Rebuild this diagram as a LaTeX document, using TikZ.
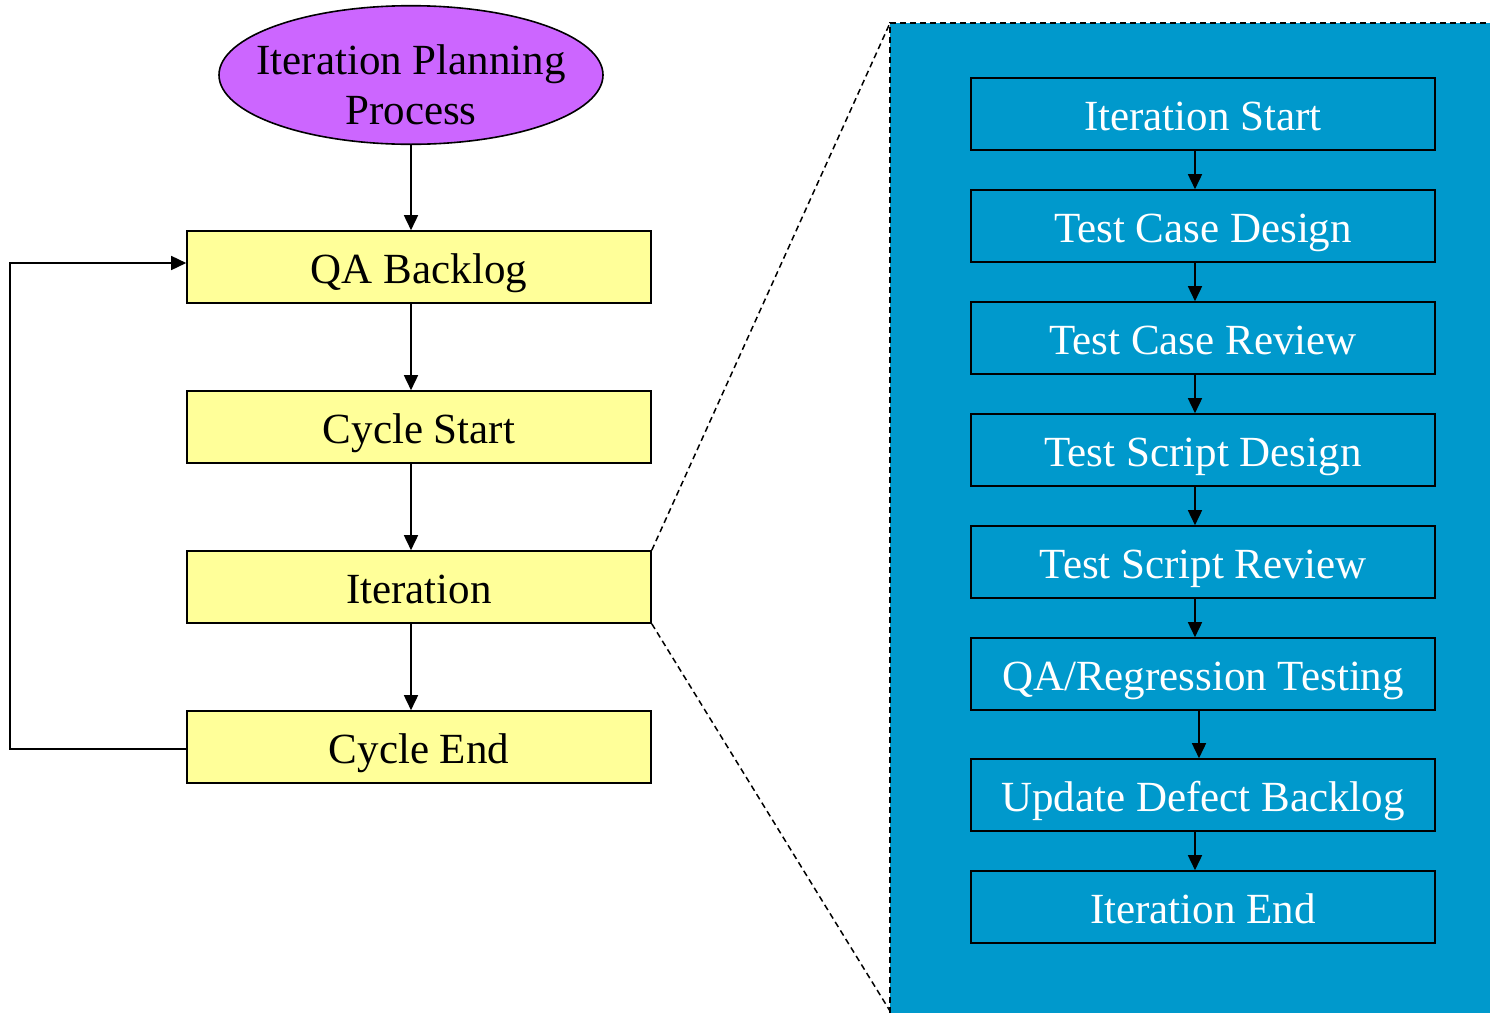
\documentclass[tikz,border=0pt]{standalone}
\usepackage{fontspec}
\setmainfont{Liberation Serif}
\usepackage{xcolor}
\usetikzlibrary{shapes.geometric}
\usetikzlibrary{arrows.meta}
\usetikzlibrary{calc}
\definecolor{planpurple}{HTML}{CC66FF}
\definecolor{qayellow}{HTML}{FFFF99}
\definecolor{panelblue}{HTML}{0099CC}

\begin{document}
\begin{tikzpicture}[x=0.5pt,y=-0.5pt,>={Triangle[length=7.5pt,width=7pt]},
	every node/.style={font=\fontsize{21.5}{25}\selectfont},
	plan/.style={draw=black, line width=0.8pt, fill=planpurple, ellipse, inner xsep=-10pt, inner ysep=0pt, text height=49pt, text depth=0pt, minimum width=192pt, minimum height=68pt, align=center},
	qabox/.style={draw=black, line width=0.8pt, fill=qayellow, minimum width=232pt, minimum height=36pt, inner sep=0pt, text height=16pt, text depth=0pt},
	stepbox/.style={draw=black, line width=0.8pt, text=white, minimum width=232pt, minimum height=36pt, inner sep=0pt, text height=16pt, text depth=0pt},
	link/.style={->, line width=0.8pt},
	zoomline/.style={line width=0.75pt, dash pattern=on 3pt off 2pt}]

\useasboundingbox (0,0) rectangle (1490,1013);

% Define the spacing between the inner steps.
\def\spacing{112}

% the zoomed-in panel
\coordinate (ptl) at (890,23);
\coordinate (pbl) at (890,1011);
\fill[panelblue] (890,1013) rectangle (1490,23);
\draw[zoomline] (890,1013) -- (ptl) -- (1490,23);

% Left column
\node[plan] (plan) at (411,75) {Iteration Planning\\Process};
\node[qabox] (qab) at (419,267) {QA Backlog};
\node[qabox] (cstart) at (419,427) {Cycle Start};
\node[qabox] (iter) at (419,587) {Iteration};
\node[qabox] (cend) at (419,747) {Cycle End};

\path[draw,link] (plan) -- (plan.south |- qab.north);
\path[draw,link] ([xshift=-4pt]qab.south) -- ([xshift=-4pt]cstart.north);
\path[draw,link] ([xshift=-4pt]cstart.south) -- ([xshift=-4pt]iter.north);
\path[draw,link] ([xshift=-4pt]iter.south) -- ([xshift=-4pt]cend.north);
\path[draw,link] ([yshift=-1pt]cend.west) -- ++(-176,0) |- ([yshift=2pt]qab.west);

\path[draw,zoomline] (iter.north east) -- (ptl);
\path[draw,zoomline] (iter.south east) -- (pbl);

% Right column
\node[stepbox] (istart) at (1203,114) {Iteration Start};
\node[stepbox] (tcd) at (1203,114+1*\spacing) {Test Case Design};
\node[stepbox] (tcr) at (1203,114+2*\spacing) {Test Case Review};
\node[stepbox] (tsd) at (1203,114+3*\spacing) {Test Script Design};
\node[stepbox] (tsr) at (1203,114+4*\spacing) {Test Script Review};
\node[stepbox] (qareg) at (1203,114+5*\spacing) {QA/Regression Testing};
\node[stepbox] (udb) at (1203,795) {Update Defect Backlog};
\node[stepbox] (iend) at (1203,907) {Iteration End};

\foreach \a/\b in {istart/tcd,tcd/tcr,tcr/tsd,tsd/tsr,tsr/qareg,udb/iend}{
	\path[draw,link] ([xshift=-4pt]\a.south) -- ([xshift=-4pt]\b.north);
}
\path[draw,link] ([xshift=-2pt]qareg.south) -- ([xshift=-2pt]udb.north);

\end{tikzpicture}
\end{document}
